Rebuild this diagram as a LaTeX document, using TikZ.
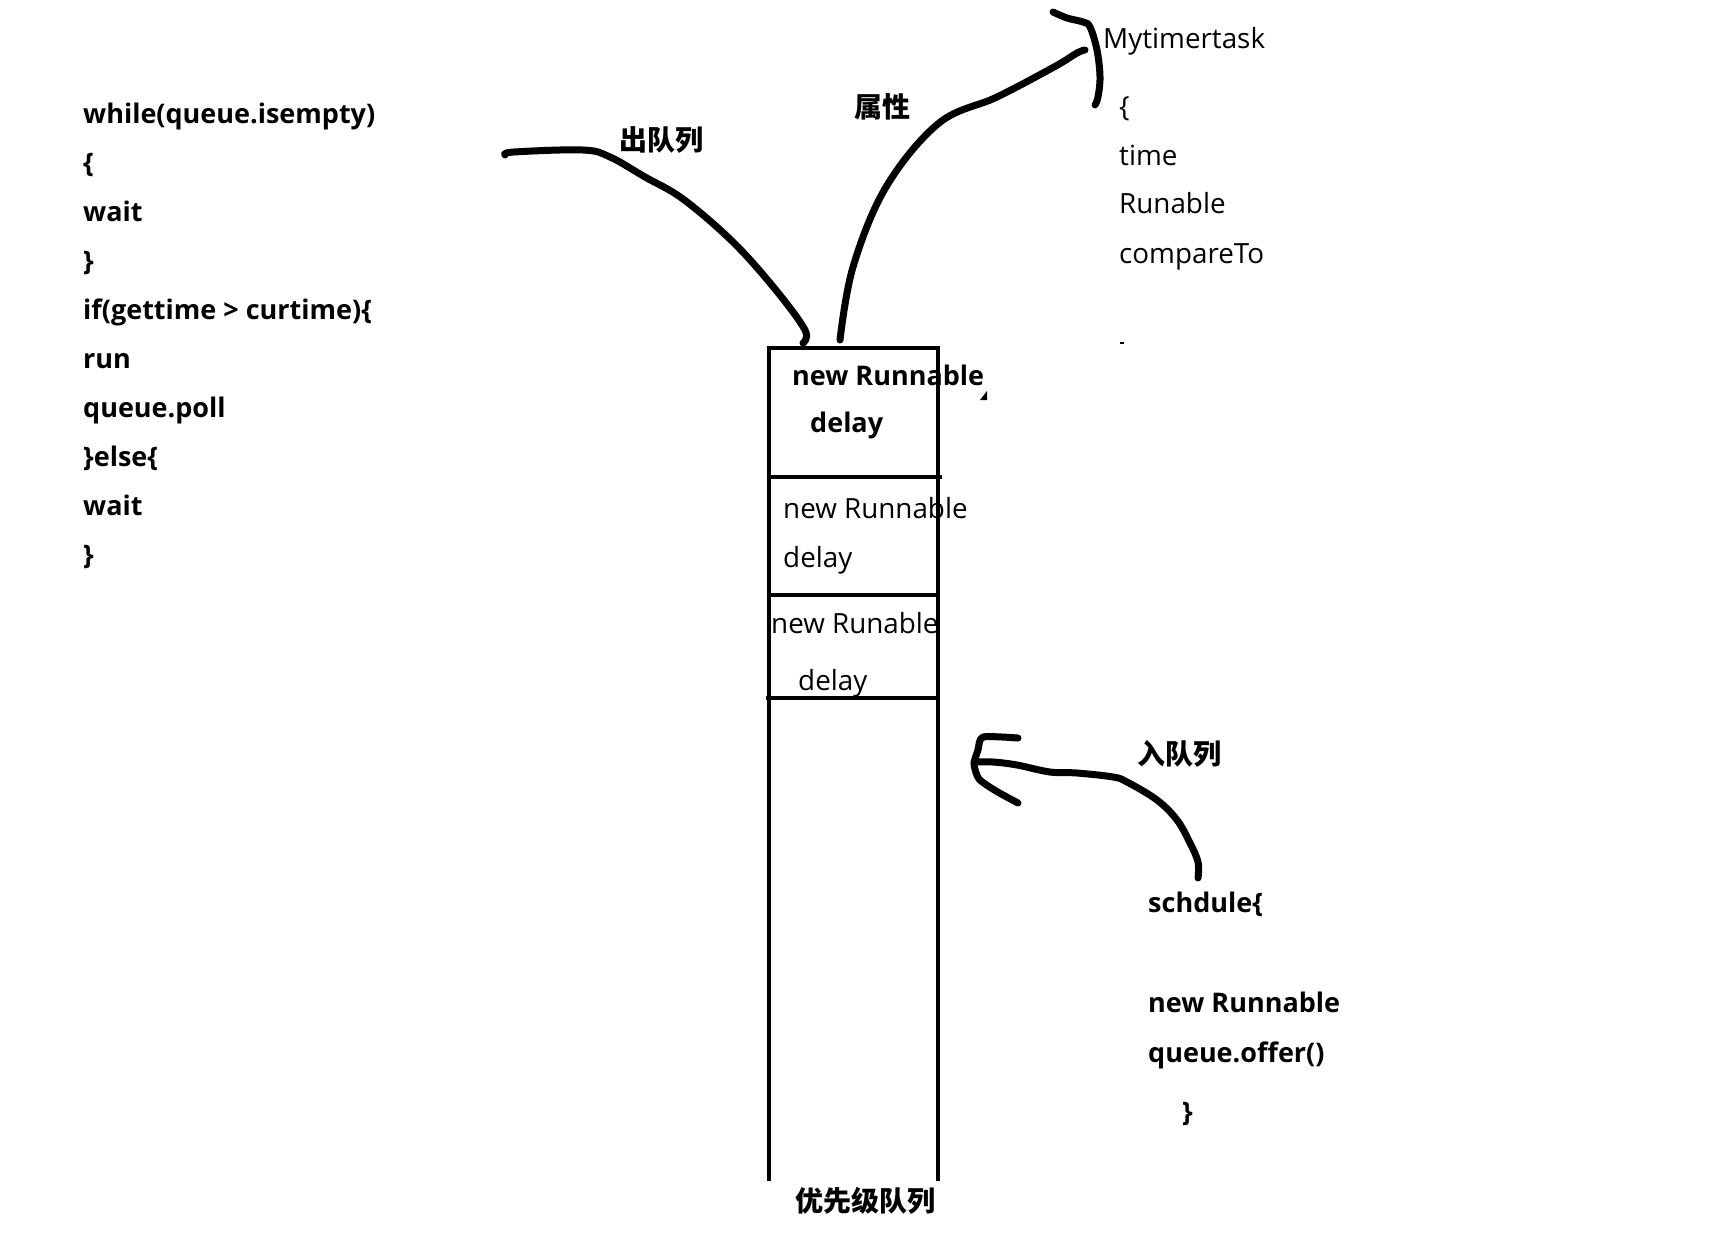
\documentclass[tikz,border=0pt]{standalone}
\usepackage{fontspec}
\setmainfont{Open Sans}
\newfontfamily\cjk{Noto Sans CJK SC}
\begin{document}
\begin{tikzpicture}[x=1pt,y=-1pt,
  txt/.style={anchor=base west,inner sep=0pt,font=\fontsize{27.8}{32}\selectfont},
  btxt/.style={anchor=base west,inner sep=0pt,font=\fontsize{27}{32}\selectfont\bfseries},
  cjklab/.style={inner sep=0pt,font=\fontsize{28}{32}\selectfont\cjk\bfseries},
  stroke/.style={line width=7pt,line cap=round,line join=round},
  boxline/.style={line width=4pt}]
\useasboundingbox (0,0) rectangle (1715,1240);
\fill[white] (0,0) rectangle (1715,1240);

% left code
\node[btxt] (code0) at (83,123) {while(queue.isempty)};
\node[btxt] (code1) at (83,172.1) {\{};
\node[btxt] (code2) at (83,221.2) {wait};
\node[btxt] (code3) at (83,270.3) {\}};
\node[btxt] (code4) at (83,319.4) {if(gettime > curtime)\{};
\node[btxt] (code5) at (83,368.5) {run};
\node[btxt] (code6) at (83,417.6) {queue.poll};
\node[btxt] (code7) at (83,466.7) {\}else\{};
\node[btxt] (code8) at (83,515.8) {wait};
\node[btxt] (code9) at (83,564.9) {\}};

% Mytimertask
\node[txt] (mtt) at (1103,48) {Mytimertask};
\node[txt] (mbr) at (1119,116) {\{};
\node[txt] (mtime) at (1119,165) {time};
\node[txt] (mrun) at (1119,213) {Runable};
\node[txt] (mcmp) at (1119,263) {compareTo};

% queue box
\coordinate (qbl) at (769,1181);
\coordinate (qtl) at (769,348);
\coordinate (qtr) at (938,348);
\coordinate (qbr) at (938,1181);
\draw[boxline] (qbl) -- (qtl) -- (qtr) -- (qbr);
\draw[boxline] (768,477) -- (942,477);
\draw[boxline] (769,595) -- (938,595);
\draw[boxline] (766,698) -- (938,698);

% cells
\node[btxt] (c1a) at (792,385) {new Runnable};
\node[btxt] (c1b) at (810,432) {delay};
\node[txt] (c2a) at (783,518) {new Runnable};
\node[txt] (c2b) at (783,567) {delay};
\node[txt] (c3a) at (771,633) {new Runable};
\node[txt] (c3b) at (798,690) {delay};

% schedule code
\node[btxt] (sch) at (1148,912) {schdule\{};
\node[btxt] (snr) at (1148,1012) {new Runnable};
\node[btxt] (sqo) at (1148,1062) {queue.offer()};
\node[btxt] (scl) at (1182,1121) {\}};

% CJK labels
\node[cjklab] (lout) at (661,140) {出队列};
\node[cjklab] (lattr) at (882,107) {属性};
\node[cjklab] (lin) at (1179,754) {入队列};
\node[cjklab] (lpq) at (865,1201) {优先级队列};

% curves
\coordinate (outfree) at (505,155);
\coordinate (qtopA) at (803,343);
\coordinate (qtopB) at (840,340);
\coordinate (brk) at (1085,50);
\draw[stroke] plot[smooth,tension=0.6] coordinates {(outfree) (514,152) (583,150) (610,157) (645,177) (683,199) (733,242) (775,289) (805,330) (qtopA)};
\draw[stroke] plot[smooth,tension=0.6] coordinates {(qtopB) (853,267) (886,187) (939,123) (997,97) (1054,67) (1077,53) (brk)};
\draw[stroke] plot[smooth,tension=0.6] coordinates {(1053,12) (1067,18) (1083,22) (1090,27) (1097,50) (1100,77) (1098,97) (1095,105)};

% enqueue arrow
\coordinate (sfree) at (1198,878);
\coordinate (atip) at (974,762);
\draw[stroke] plot[smooth,tension=0.6] coordinates {(sfree) (1198,862) (1190,843) (1177,820) (1157,800) (1127,782) (1113,777) (1077,773) (1050,772) (1017,765) (993,762) (atip)};
\draw[stroke] plot[smooth,tension=0.4] coordinates {(1018,738) (983,737) (978,750) (974,764) (979,779) (996,791) (1018,803)};

% small marks
\fill (980,400) -- (987,391) -- (987,400) -- cycle;
\fill (1120,342) rectangle (1124,344);
\end{tikzpicture}
\end{document}
